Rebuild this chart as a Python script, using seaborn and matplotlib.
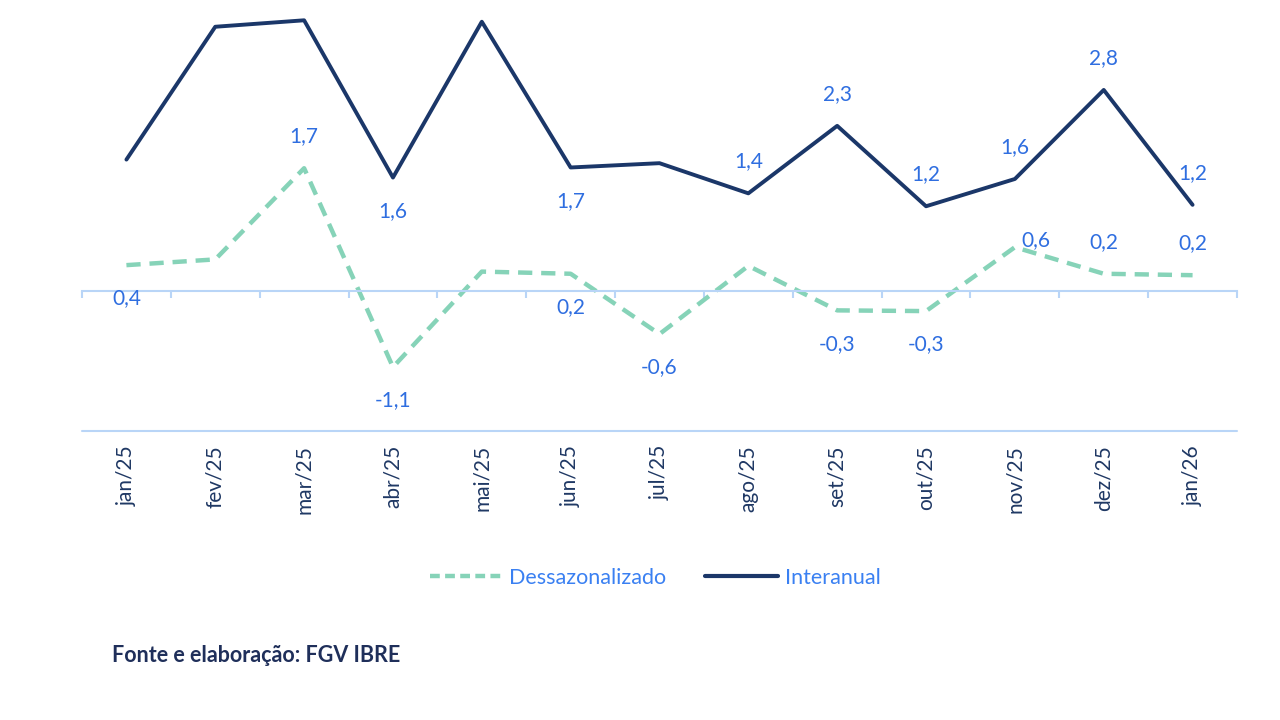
import numpy as np
import pandas as pd
import matplotlib
matplotlib.use("Agg")
import matplotlib.pyplot as plt
from matplotlib.lines import Line2D
import seaborn as sns

# ---- data ----
months = ["jan/25", "fev/25", "mar/25", "abr/25", "mai/25", "jun/25", "jul/25",
          "ago/25", "set/25", "out/25", "nov/25", "dez/25", "jan/26"]
dessazonalizado = [0.36, 0.44, 1.71, -1.06, 0.27, 0.24, -0.60, 0.35, -0.27, -0.28, 0.61, 0.24, 0.22]
interanual = [1.83, 3.68, 3.77, 1.58, 3.75, 1.72, 1.78, 1.36, 2.30, 1.18, 1.56, 2.80, 1.20]
dess_label_pos = ["below", None, "above", "below", None, "below", "below", None,
                  "below", "below", "right", "above", "above"]
inter_label_pos = [None, None, "above", "below", "above", "below", None, "above",
                   "above", "above", "above", "above", "above"]

# ---- style ----
sns.set_theme(style="white")
plt.rcParams["font.family"] = ["Lato", "DejaVu Sans"]

NAVY = "#1b3769"
GREEN = "#86d3b8"
LABEL_BLUE = "#2f6ee0"
LEGEND_BLUE = "#3a80f2"
TICK_NAVY = "#1f3864"
AXIS_BLUE = "#b9d5f7"

fig = plt.figure(figsize=(12.8, 7.2), dpi=100)
ymin, ymax = -1.95, 4.1
ax = fig.add_axes([82 / 1280, (720 - 431) / 720, 1155 / 1280, (431 + 3.4) / 720])

df = pd.DataFrame({"x": np.arange(len(months)), "mes": months,
                   "Dessazonalizado": dessazonalizado, "Interanual": interanual})

sns.lineplot(data=df, x="x", y="Dessazonalizado", ax=ax, color=GREEN, lw=3.2,
             linestyle=(0, (3.2, 2.0)), clip_on=False)
sns.lineplot(data=df, x="x", y="Interanual", ax=ax, color=NAVY, lw=2.8, clip_on=False)

ax.set_xlim(-0.5, len(months) - 0.5)
ax.set_ylim(ymin, ymax)
ax.set_xlabel("")
ax.set_ylabel("")
ax.set_yticks([])

for s in ["top", "right", "left"]:
    ax.spines[s].set_visible(False)
ax.spines["bottom"].set_position(("data", 0))
ax.spines["bottom"].set_color(AXIS_BLUE)
ax.spines["bottom"].set_linewidth(1.5)
ax.axhline(ymin, color=AXIS_BLUE, lw=1.5, clip_on=False)

ax.set_xticks(np.arange(len(months)))
ax.set_xticklabels(months, rotation=90, fontsize=15, color=TICK_NAVY)
ax.set_xticks(np.arange(len(months) + 1) - 0.5, minor=True)
ax.tick_params(axis="x", which="major", length=0, pad=111)
ax.tick_params(axis="x", which="minor", length=5, width=1.5, color=AXIS_BLUE,
               direction="out", bottom=True)


def fmt(v):
    return f"{v:.1f}".replace(".", ",")


offsets = {"above": (0, 23), "below": (0, -24), "right": (15, 5)}
for xs, vals, poss in [(df["x"], dessazonalizado, dess_label_pos),
                       (df["x"], interanual, inter_label_pos)]:
    for xi, v, p in zip(xs, vals, poss):
        if p is None:
            continue
        ax.annotate(fmt(v), (xi, v), xytext=offsets[p], textcoords="offset points",
                    ha="center", va="center", fontsize=15, color=LABEL_BLUE,
                    annotation_clip=False)

handles = [Line2D([], [], color=GREEN, lw=3.2, linestyle=(0, (2.2, 1.2))),
           Line2D([], [], color=NAVY, lw=3.0)]
leg = fig.legend(handles, ["Dessazonalizado", "Interanual"], loc="center",
                 bbox_to_anchor=(655 / 1280, 1 - 578 / 720), ncol=2, frameon=False,
                 fontsize=15.5, handlelength=3.4, handletextpad=0.3, columnspacing=1.8)
for t in leg.get_texts():
    t.set_color(LEGEND_BLUE)

fig.text(112 / 1280, 1 - 656 / 720, "Fonte e elaboração: FGV IBRE", fontsize=15.5,
         fontweight="bold", color="#1f2f5a", ha="left", va="center")

fig.savefig("out.png", dpi=100)
